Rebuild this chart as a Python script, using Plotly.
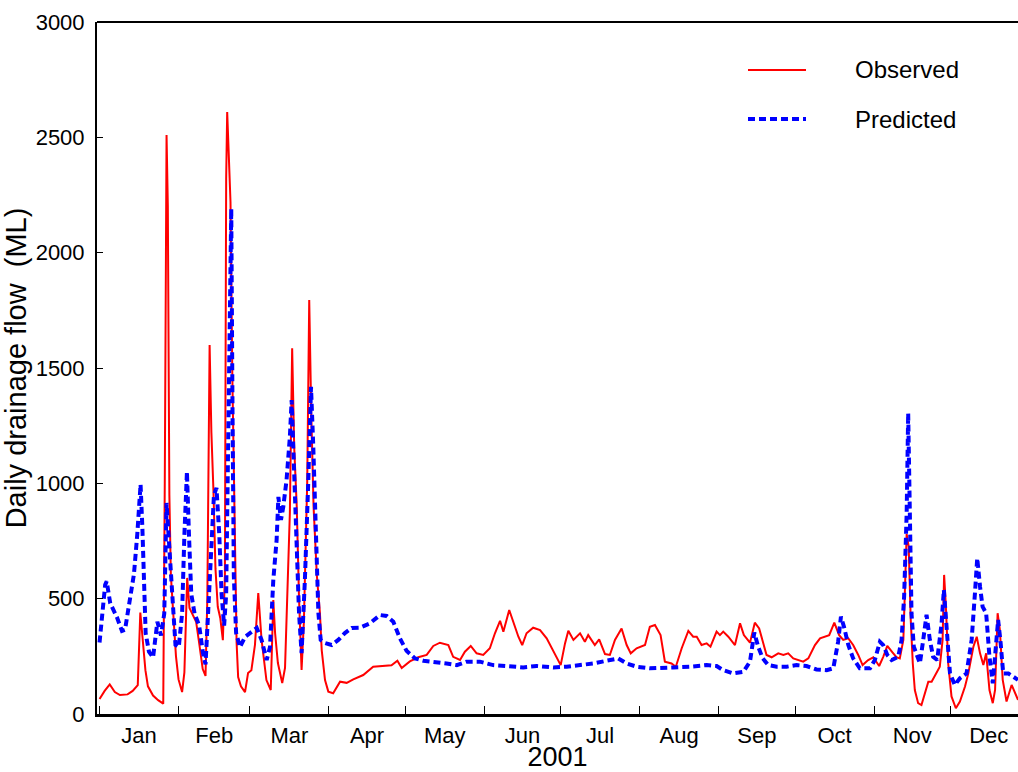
import numpy as np
import pandas as pd
import plotly.graph_objects as go

# ---- data (day of year 2001, ML/day) ----
obs_day = [1, 3, 5, 7, 9, 12, 14, 16, 17, 18, 19, 20, 22, 24, 26, 26.6, 27.3, 27.8, 28.4, 29, 30, 31, 32,
           33.4, 34.3, 35.4, 36.3, 37.5, 38.9, 40.2, 41.5, 42.6, 43.3, 44.2, 44.9, 45.7, 46.5, 47.4, 48.4,
           49.4, 50.2, 50.7, 51.1, 51.8, 52.4, 53.1, 53.9, 54.8, 55.4, 56.5, 58.1, 59.3, 60.6, 62, 63.3,
           64.6, 66.5, 68.2, 69.2, 69.9, 71, 72.7, 73.8, 75, 75.7, 76.6, 77.4, 78.4, 79.3, 80.3, 81.2, 82.5,
           83.3, 84.1, 85, 86.3, 87.5, 88.2, 89.5, 90.8, 92.7, 95.4, 98, 100.6, 104.5, 108.4, 112.4, 115.6,
           117.9, 119.6, 122.8, 126.1, 129.4, 132, 134.6, 137.9, 139.8, 142.5, 144.4, 146.7, 149, 151.6,
           154.2, 156.2, 158.2, 159.5, 161.8, 163.4, 165.4, 166.9, 168.6, 171.2, 173.9, 176.5, 179.1, 182,
           183.7, 185, 187, 189.6, 191.5, 192.8, 195.4, 197.1, 199.4, 201.3, 203.3, 205.9, 207.9, 209.5,
           211.8, 215.1, 217, 219, 221.2, 222.9, 225.5, 227.2, 229.5, 232.1, 234, 235.4, 237.3, 239.3,
           240.8, 243.2, 244.5, 245.8, 247.8, 250.4, 252.4, 253.9, 256.3, 258.2, 259.9, 261.5, 262.8,
           264.8, 267.4, 269.4, 271.3, 273.3, 277.2, 279.2, 281.8, 283.8, 285.7, 287.4, 289.4, 291.3,
           292.9, 294.9, 296.8, 298.8, 300.5, 302.7, 304.7, 307, 308.6, 310.2, 312.3, 313.8, 315.1, 316.5,
           317.8, 318.6, 319.4, 320.2, 321, 322.3, 323.6, 325, 326.3, 327.6, 329.5, 330.8, 331.9, 332.5,
           333.2, 334.1, 335.4, 337.1, 338.7, 340.7, 342, 344, 345.3, 346.6, 347.9, 349, 350.3, 351.6,
           352.5, 353.5, 354.4, 355.5, 357, 359, 361.5]
obs_flow = [65, 100, 128, 95, 82, 85, 100, 125, 440, 300, 190, 120, 80, 60, 45, 1000, 2510, 2200, 950, 600,
            400, 250, 150, 95, 180, 590, 460, 430, 400, 300, 195, 165, 500, 1600, 1220, 970, 630, 465, 415,
            320, 600, 2320, 2610, 2400, 2220, 1480, 970, 308, 160, 120, 95, 178, 190, 300, 524, 321, 147, 104,
            494, 351, 221, 134, 200, 600, 871, 1586, 1157, 900, 500, 191, 400, 1000, 1795, 1305, 900, 600, 438,
            277, 147, 97, 90, 140, 135, 150, 169, 205, 208, 211, 231, 199, 228, 246, 256, 295, 309, 299, 248,
            234, 270, 295, 263, 256, 285, 350, 404, 357, 451, 400, 335, 299, 350, 374, 364, 328, 270, 212, 306,
            361, 321, 350, 313, 342, 299, 323, 260, 256, 321, 371, 299, 263, 285, 299, 378, 386, 342, 227, 219,
            205, 285, 360, 335, 335, 299, 306, 292, 357, 342, 357, 335, 299, 393, 342, 309, 396, 371, 313, 256,
            246, 263, 256, 263, 241, 227, 241, 299, 328, 335, 342, 396, 342, 321, 328, 299, 256, 212, 234, 246,
            208, 248, 295, 266, 246, 241, 321, 780, 726, 408, 220, 104, 47, 39, 90, 140, 140, 176, 205, 321,
            603, 465, 220, 76, 25, 54, 119, 176, 292, 335, 263, 212, 263, 104, 47, 104, 437, 364, 148, 54, 126,
            61]

pred_day = [1, 3.2, 3.8, 5.2, 7.8, 9.8, 11, 12.5, 14.5, 15.8, 17.1, 17.8, 18.4, 19.1, 20.4, 22, 23.7, 25.1,
            26.4, 27.3, 28.4, 29.4, 30.8, 32.1, 33.4, 34.3, 35.3, 36.1, 37, 38.3, 40.1, 41.6, 42.6, 43.6, 45,
            45.9, 46.9, 48, 48.9, 49.9, 50.7, 51.6, 52.2, 52.7, 53.2, 53.7, 54.6, 56.1, 58.1, 60, 62.7, 64.6,
            66.6, 67.9, 69.2, 70.5, 71.2, 72.2, 73.1, 74.4, 75.7, 76.4, 77, 78.1, 79.3, 80.3, 81.6, 82.9, 84,
            84.9, 85.8, 86.9, 87.8, 89.5, 92.1, 94.7, 97.3, 100, 103.2, 107.1, 111.1, 113.7, 116.3, 118.9,
            121.5, 124.8, 128.1, 132, 137.2, 141.2, 145.1, 150.3, 155.5, 160.8, 167.3, 172.6, 179.1, 184.3,
            189.6, 194.8, 200, 204.6, 207.9, 211.8, 217, 219.7, 226.2, 232.7, 239.3, 243.2, 245.8, 249.7,
            253.7, 256.3, 258, 259.5, 261.3, 263.5, 266.8, 270.7, 274.6, 278.5, 282.4, 286.4, 289, 290.9, 292,
            293.2, 294.9, 296.8, 299.4, 303.4, 305.3, 307.3, 308.6, 310.2, 311.9, 314.5, 315.8, 316.8, 317.8,
            318.4, 319.1, 319.7, 320.6, 321.7, 323, 324.3, 325.6, 326.9, 328.2, 329.8, 331.5, 332.4, 333.5,
            334.8, 336.7, 338.7, 341.3, 343.3, 344.6, 345.5, 346.6, 347.6, 349, 350.3, 351.6, 352.6, 353.7,
            354.7, 355.7, 357.7, 359.6, 361.5]
pred_flow = [310, 560, 575, 480, 420, 360, 365, 480, 606, 777, 995, 811, 606, 350, 270, 245, 400, 340, 435,
             915, 720, 520, 300, 290, 435, 777, 1050, 777, 520, 435, 383, 264, 215, 435, 777, 949, 980, 777,
             520, 383, 520, 1290, 1800, 2190, 1300, 600, 351, 290, 334, 351, 373, 321, 234, 290, 581, 754, 941,
             841, 897, 1014, 1201, 1361, 1157, 724, 437, 264, 581, 1000, 1418, 1157, 800, 437, 321, 308, 299,
             321, 351, 373, 374, 393, 429, 425, 400, 328, 274, 241, 231, 227, 219, 212, 227, 227, 212, 208, 202,
             208, 202, 205, 212, 219, 231, 241, 219, 205, 198, 198, 202, 205, 212, 208, 190, 176, 183, 227, 353,
             292, 241, 212, 205, 205, 212, 208, 193, 190, 198, 313, 422, 378, 299, 241, 198, 198, 234, 313, 299,
             256, 234, 248, 321, 509, 870, 1304, 798, 436, 292, 263, 220, 321, 430, 321, 248, 234, 393, 538,
             350, 176, 126, 155, 176, 321, 523, 675, 552, 465, 437, 248, 133, 248, 408, 306, 176, 176, 162, 148]

series_names = ["Observed", "Predicted"]
y_title = "Daily drainage flow \u00a0(ML)"
x_title = "2001"

# ---- convert day of year to dates ----
start = pd.Timestamp("2001-01-01")
obs_dates = start + pd.to_timedelta(np.array(obs_day) - 1, unit="D")
pred_dates = start + pd.to_timedelta(np.array(pred_day) - 1, unit="D")

FONT = "Liberation Sans, Arial, sans-serif"
RED = "#ff0000"
BLUE = "#0000ff"

fig = go.Figure()
fig.add_trace(go.Scatter(x=obs_dates, y=obs_flow, mode="lines", name=series_names[0],
                         line=dict(color=RED, width=2), showlegend=False))
fig.add_trace(go.Scatter(x=pred_dates, y=pred_flow, mode="lines", name=series_names[1],
                         line=dict(color=BLUE, width=4, dash="7px,4px"), showlegend=False))

# plot-area geometry used to place the hand-drawn legend
L, T, W, H = 97, 22, 921, 692

def px_to_paper(xp, yp):
    return (xp - L) / W, (T + H - yp) / H

shapes = [dict(type="line", xref="paper", yref="paper", x0=0, x1=1, y0=1, y1=1,
               line=dict(color="black", width=2))]
annotations = []
legend_rows = [(70, RED, 2, "solid"), (119, BLUE, 4, "7px,4px")]
for name, (yp, col, wdt, dsh) in zip(series_names, legend_rows):
    x0, y0 = px_to_paper(748, yp)
    x1, _ = px_to_paper(806, yp)
    shapes.append(dict(type="line", xref="paper", yref="paper", x0=x0, x1=x1, y0=y0, y1=y0,
                       line=dict(color=col, width=wdt, dash=dsh)))
    tx, _ = px_to_paper(853, yp)
    annotations.append(dict(xref="paper", yref="paper", x=tx, y=y0, text=name, showarrow=False,
                            xanchor="left", yanchor="middle", font=dict(family=FONT, size=24, color="black")))

fig.update_layout(
    width=1018, height=772,
    margin=dict(l=L, r=0, t=T, b=772 - T - H, autoexpand=False),
    paper_bgcolor="white", plot_bgcolor="white",
    font=dict(family=FONT, color="black"),
    shapes=shapes, annotations=annotations,
    showlegend=False,
)
fig.update_xaxes(
    type="date", range=["2000-12-31", "2001-12-27 12:00"],
    tick0="2001-01-01", dtick="M1", tickformat="%b", ticklabelmode="period",
    ticks="inside", ticklen=8, tickwidth=1, tickcolor="black",
    showline=True, linewidth=3, linecolor="black", mirror=False,
    showgrid=False, zeroline=False,
    tickfont=dict(family=FONT, size=22, color="black"),
    title=dict(text=x_title, font=dict(family=FONT, size=27, color="black"), standoff=2),
    automargin=False,
)
fig.update_yaxes(
    range=[0, 3000], tick0=0, dtick=500,
    ticks="inside", ticklen=6, tickwidth=1, tickcolor="black",
    showline=True, linewidth=2, linecolor="black",
    showgrid=False, zeroline=False,
    tickfont=dict(family=FONT, size=22, color="black"),
    ticklabelstandoff=6,
    title=dict(text=y_title, font=dict(family=FONT, size=29, color="black"), standoff=0),
    automargin=False,
)

fig.write_html("out.html")
